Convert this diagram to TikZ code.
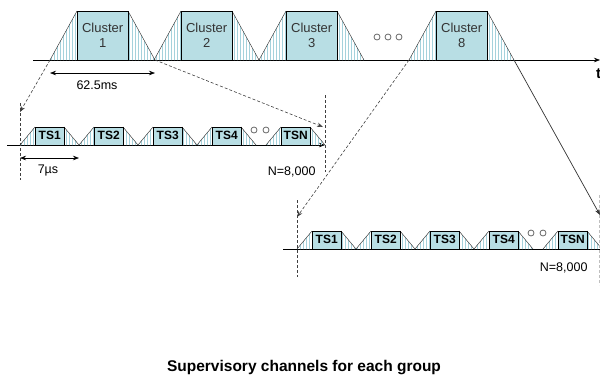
\documentclass[tikz,border=0pt]{standalone}
\usepackage{fontspec}
\setmainfont{Liberation Sans}
\usetikzlibrary{patterns.meta,arrows.meta}
\definecolor{slotfill}{RGB}{184,222,228}
\definecolor{hatchcol}{RGB}{165,210,220}
\tikzset{
  ramp/.style = {pattern={Lines[angle=90,distance=3pt,line width=0.7pt]}, pattern color=hatchcol},
  slotbox/.style = {draw=black, fill=slotfill, inner sep=0pt, anchor=south west, align=center},
  clustertext/.style = {text=black!80, font=\fontsize{13}{15.5}\selectfont},
  tstext/.style = {font=\bfseries\fontsize{12}{12}\selectfont},
  axis/.style = {draw=black, line width=0.6pt},
  guide/.style = {draw=black!75, line width=0.6pt, dash pattern=on 3pt off 2pt},
  tip/.style = {-{Stealth[length=6pt,width=4.5pt]}},
  span/.style = {{Stealth[length=6pt,width=4.5pt]}-{Stealth[length=6pt,width=4.5pt]}, line width=0.6pt},
  dots/.style = {draw=black!60, line width=0.8pt}
}
\newcommand{\drawslot}[8]{%
  \fill[ramp] (#2,#3) -- (#2+#4,#3-#6) -- (#2+#4,#3) -- cycle;
  \fill[ramp] (#2+#4+#5,#3-#6) -- (#2+2*#4+#5,#3) -- (#2+#4+#5,#3) -- cycle;
  \draw[black!85] (#2,#3) -- (#2+#4,#3-#6) (#2+#4+#5,#3-#6) -- (#2+2*#4+#5,#3);
  \node[slotbox, #8, minimum width=#5pt, minimum height=#6pt] (#1) at (#2+#4,#3) {#7};
  \coordinate (#1-l) at (#2,#3);
  \coordinate (#1-r) at (#2+2*#4+#5,#3);
}
\begin{document}
\begin{tikzpicture}[x=1pt,y=-1pt]
\useasboundingbox (0,0) rectangle (600,381);
\draw[axis,tip] (33,60) -- (600,60);
\draw[axis,tip] (7,145) -- (325,145);
\draw[axis] (283,249) -- (600,249);
\foreach \x/\n in {50/1,154/2,259/3,409/8} \drawslot{c\n}{\x}{60}{27}{51}{49}{Cluster\\\n}{clustertext};
\foreach \x/\t [count=\i] in {20/TS1,79/TS2,138/TS3,197/TS4,266/TSN} \drawslot{m\i}{\x}{145}{15}{29}{18}{\t}{tstext};
\foreach \x/\t [count=\i] in {297/TS1,356/TS2,415/TS3,474/TS4,543/TSN} \drawslot{b\i}{\x}{249}{15}{29}{18}{\t}{tstext};
\foreach \x in {377,388,399} \draw[dots] (\x,37) circle (3);
\foreach \x in {254,266} \draw[dots] (\x,130) circle (3);
\foreach \x in {531,543} \draw[dots] (\x,233) circle (3);
\node[font=\bfseries\fontsize{15}{15}\selectfont, anchor=west, inner sep=0pt] (tlab) at (596,74) {t};
\draw[span] ([yshift=-13pt]c1-l) -- ([yshift=-13pt]c1-r);
\node[font=\fontsize{12.5}{14}\selectfont] (lab62) at (97,85) {62.5ms};
\draw[span] ([yshift=-13pt]m1-l) -- ([yshift=-13pt]m2-l);
\node[font=\fontsize{12.5}{14}\selectfont] (lab7) at (48,170) {7µs};
\node[font=\fontsize{12.5}{14}\selectfont, anchor=east] (nm) at (319,172) {N=8,000};
\node[font=\fontsize{12.5}{14}\selectfont, anchor=east] (nb) at (591,268) {N=8,000};
\coordinate (ml) at (20,112);
\coordinate (mr) at (323,127);
\coordinate (bl) at (297,217);
\coordinate (br) at (600,215);
\draw[guide] (20,103) -- (20,180);
\draw[guide] (325,95) -- (325,172);
\draw[guide] (297,200) -- (297,277);
\draw[guide, draw=black!25] (599,195) -- (599,285);
\draw[guide,tip] (c1-l) -- (ml);
\draw[guide,tip] (c1-r) -- (mr);
\draw[guide,tip] (c8-l) -- (bl);
\draw[tip, draw=black!80, line width=0.7pt] (c8-r) -- (br);
\node[font=\bfseries\fontsize{15.5}{17}\selectfont] (cap) at (304,368) {Supervisory channels for each group};
\end{tikzpicture}
\end{document}
